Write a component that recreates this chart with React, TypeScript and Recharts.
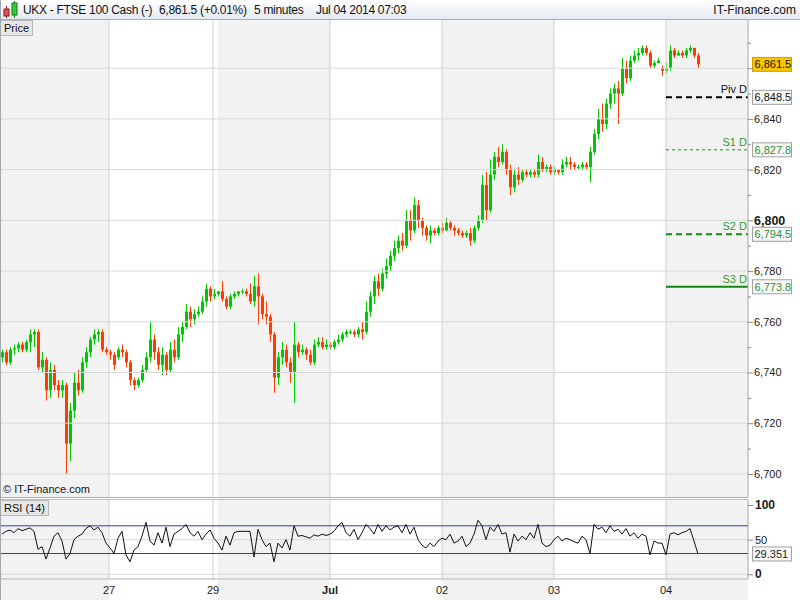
import React from "react";
import { ComposedChart, Bar, Line, XAxis, YAxis, ReferenceLine, ReferenceArea, ReferenceDot } from "recharts";

// 5-minute candles, Jun 26 -> Jul 04 2014 (one entry ~ every 4px of the original)
const opens = [
  6746, 6748, 6744, 6749, 6749.5, 6751, 6749, 6752, 6755, 6756, 6742, 6745, 6733, 6741, 6735, 6733, 6735, 6712, 6725, 6736, 6733, 6744, 6748, 6753, 6755, 6756, 6749,
  6748, 6747, 6746, 6749, 6748, 6744, 6737, 6735, 6737, 6741, 6746, 6753, 6748, 6743, 6747, 6741, 6749, 6746, 6755, 6758, 6764, 6761, 6763, 6764, 6768, 6773, 6770,
  6771, 6772, 6769, 6766, 6770, 6771, 6772, 6772, 6771, 6768, 6774, 6770, 6763, 6762, 6755, 6738, 6746, 6749, 6744, 6740, 6751, 6748, 6749, 6747, 6744, 6751, 6752, 6750,
  6751, 6750, 6752, 6753, 6755, 6756, 6756, 6755, 6757, 6756, 6764, 6770, 6776, 6773, 6779, 6782, 6786, 6789, 6792, 6790, 6800, 6796, 6806, 6800, 6797, 6794, 6796, 6795,
  6797, 6796, 6799, 6797, 6796, 6795, 6794, 6795, 6792, 6797, 6800, 6814, 6804, 6818, 6825, 6823, 6827, 6820, 6813, 6818, 6816, 6819, 6818, 6819, 6818, 6823, 6820, 6821,
  6819, 6820, 6819, 6822, 6823, 6822, 6821, 6821, 6822, 6821, 6827, 6834, 6840, 6838, 6846, 6850, 6852, 6850, 6860, 6856, 6863, 6865, 6866, 6868, 6866, 6861, 6862, 6860,
  6859, 6860, 6867, 6865, 6866, 6865, 6867, 6868, 6865,
];
const highs = [
  6749, 6749, 6750, 6751, 6752, 6752, 6753, 6757, 6757, 6757, 6748, 6746, 6744, 6743, 6737, 6737, 6736, 6728, 6740, 6741, 6746, 6750, 6754, 6757, 6757, 6757, 6750,
  6749, 6748, 6750, 6751, 6749, 6745, 6738, 6738, 6743, 6748, 6760, 6755, 6750, 6750, 6748, 6752, 6753, 6758, 6760, 6767, 6766, 6765, 6766, 6770, 6775, 6774, 6773,
  6772, 6776, 6770, 6771, 6772, 6772, 6773, 6773, 6775, 6778, 6779, 6771, 6768, 6763, 6756, 6748, 6752, 6751, 6746, 6760, 6752, 6751, 6750, 6749, 6753, 6754, 6754, 6753,
  6752, 6753, 6755, 6756, 6757, 6757, 6757, 6758, 6760, 6768, 6772, 6778, 6779, 6781, 6785, 6788, 6792, 6794, 6795, 6804, 6804, 6809, 6808, 6801, 6798, 6798, 6797, 6798,
  6799, 6801, 6800, 6798, 6797, 6796, 6796, 6797, 6798, 6802, 6818, 6819, 6824, 6827, 6829, 6830, 6828, 6822, 6820, 6821, 6820, 6820, 6820, 6820, 6826, 6825, 6822, 6822,
  6821, 6820, 6824, 6825, 6825, 6823, 6822, 6823, 6823, 6829, 6836, 6844, 6846, 6848, 6852, 6854, 6855, 6864, 6863, 6865, 6867, 6868, 6869, 6869, 6867, 6863, 6864, 6861,
  6862, 6869, 6868, 6867, 6867, 6868, 6869, 6868, 6866,
];
const lows = [
  6744, 6743, 6743, 6747, 6748, 6748, 6748, 6748, 6750, 6741, 6740, 6729, 6730, 6733, 6730, 6730, 6700, 6705, 6722, 6731, 6732, 6742, 6746, 6751, 6752, 6748, 6747,
  6745, 6741, 6745, 6746, 6742, 6735, 6733, 6734, 6736, 6740, 6744, 6745, 6741, 6739, 6739, 6740, 6744, 6745, 6752, 6757, 6758, 6759, 6762, 6763, 6766, 6768, 6769,
  6770, 6768, 6765, 6765, 6769, 6770, 6771, 6770, 6767, 6766, 6759, 6761, 6759, 6752, 6732, 6735, 6743, 6742, 6736, 6728, 6746, 6747, 6745, 6743, 6743, 6750, 6749, 6749,
  6749, 6749, 6751, 6752, 6754, 6755, 6754, 6754, 6753, 6755, 6762, 6767, 6770, 6772, 6777, 6780, 6784, 6787, 6788, 6789, 6792, 6795, 6797, 6794, 6792, 6791, 6794, 6794,
  6795, 6796, 6796, 6794, 6794, 6793, 6793, 6790, 6791, 6796, 6799, 6800, 6803, 6816, 6821, 6822, 6818, 6810, 6811, 6814, 6815, 6817, 6817, 6817, 6817, 6819, 6819, 6818,
  6818, 6818, 6818, 6821, 6820, 6820, 6820, 6820, 6820, 6815, 6826, 6832, 6835, 6836, 6844, 6846, 6838, 6849, 6854, 6855, 6862, 6863, 6865, 6865, 6860, 6860, 6862, 6857,
  6858, 6859, 6864, 6865, 6864, 6864, 6866, 6864, 6860,
];
const closes = [
  6748, 6744, 6749, 6749.5, 6751, 6749, 6752, 6755, 6756, 6742, 6745, 6733, 6741, 6735, 6733, 6735, 6712, 6725, 6736, 6733, 6744, 6748, 6753, 6755, 6756, 6749, 6748,
  6747, 6743, 6749, 6748, 6744, 6737, 6735, 6737, 6741, 6746, 6753, 6748, 6743, 6747, 6741, 6749, 6746, 6755, 6758, 6764, 6761, 6763, 6764, 6768, 6773, 6770, 6771,
  6772, 6769, 6766, 6770, 6771, 6772, 6772, 6771, 6768, 6774, 6770, 6763, 6762, 6755, 6738, 6746, 6749, 6744, 6740, 6751, 6748, 6749, 6747, 6744, 6751, 6752, 6750, 6751,
  6750, 6752, 6753, 6755, 6756, 6756, 6755, 6757, 6756, 6764, 6770, 6776, 6773, 6779, 6782, 6786, 6789, 6792, 6790, 6800, 6796, 6806, 6800, 6797, 6794, 6796, 6795, 6797,
  6796, 6799, 6797, 6796, 6795, 6794, 6795, 6792, 6797, 6800, 6814, 6804, 6818, 6825, 6823, 6827, 6820, 6813, 6818, 6816, 6819, 6818, 6819, 6818, 6823, 6820, 6821, 6819,
  6820, 6819, 6822, 6823, 6822, 6821, 6821, 6822, 6821, 6827, 6834, 6840, 6838, 6846, 6850, 6852, 6850, 6860, 6856, 6863, 6865, 6866, 6868, 6866, 6861, 6862, 6863, 6859,
  6860, 6867, 6865, 6866, 6865, 6867, 6868, 6865, 6861.5,
];
const rsiValues = [
  58, 62, 64, 60, 66, 63, 65, 67, 62, 36, 40, 22, 38, 55, 60, 48, 22, 30, 50, 55, 58, 66, 70, 64, 68, 60, 45,
  38, 30, 52, 62, 28, 18, 35, 40, 55, 75, 48, 42, 60, 45, 68, 40, 58, 62, 66, 72, 60, 55, 62, 50, 58, 64, 52,
  45, 35, 55, 42, 60, 62, 62, 62, 62, 25, 65, 50, 40, 45, 18, 45, 38, 50, 35, 70, 55, 56, 54, 52, 57, 55, 58, 56,
  58, 62, 70, 75, 60, 55, 65, 50, 60, 72, 66, 58, 72, 62, 70, 64, 68, 70, 60, 72, 58, 68, 50, 42, 38, 45, 40, 48,
  52, 50, 58, 45, 48, 55, 40, 45, 58, 78, 70, 50, 68, 62, 72, 58, 60, 32, 58, 48, 55, 50, 60, 52, 72, 45, 40, 42,
  50, 55, 48, 52, 50, 47, 45, 55, 50, 30, 72, 65, 68, 60, 70, 62, 65, 58, 66, 55, 60, 52, 58, 55, 28, 48, 45, 45,
  28, 58, 60, 57, 60, 62, 66, 48, 29.351,
];

const dayLabels = ["27", "29", "Jul", "02", "03", "04"];
const dayTicks = [26.75, 52.75, 82, 110, 138, 166];
const dayBands: [number, number][] = [[-0.5, 26.75], [54, 82], [110, 138], [166, 186.5]];
const priceTicks = [6700, 6710, 6720, 6730, 6740, 6750, 6760, 6770, 6780, 6790, 6800, 6810, 6820, 6830, 6840, 6850, 6860, 6870];
const rsiTicks = [0, 50, 100];
const rsiBands = [30, 70];
const pivotNames = ["Piv D", "S1 D", "S2 D", "S3 D"];
const pivotValues = [6848.5, 6827.8, 6794.5, 6773.8];
const pivotStart = 166;
const lastPrice = 6861.5;

const FONT = '"Liberation Sans", Arial, sans-serif';
const BAND = "#f2f2f2";
const GRID = "#d9d9d9";
const UP = "#00c800";
const DOWN = "#ff3c00";
const X_DOMAIN: [number, number] = [-0.5, 186.5];
const PRICE_DOMAIN: [number, number] = [6690.9, 6879.0];
const RSI_DOMAIN: [number, number] = [-6.8, 108.7];
const PLOT_W = 748;

const pivotStyle: Record<string, { color: string; width: number; dash?: string }> = {
  "Piv D": { color: "#000000", width: 2, dash: "6 4" },
  "S1 D": { color: "#119911", width: 1, dash: "3 3" },
  "S2 D": { color: "#118811", width: 2, dash: "6 4" },
  "S3 D": { color: "#118811", width: 2 },
};

const candles = opens.map((o, i) => ({
  i,
  open: o,
  high: highs[i],
  low: lows[i],
  close: closes[i],
  range: [lows[i], highs[i]],
  rsi: rsiValues[i],
}));

const fmt = (v: number, d = 0) =>
  v.toLocaleString("en-US", { minimumFractionDigits: d, maximumFractionDigits: d });

const idxToPx = (v: number) => ((v - X_DOMAIN[0]) * PLOT_W) / (X_DOMAIN[1] - X_DOMAIN[0]);

function Candle(props: any) {
  const { x, y, width, height, payload } = props;
  if (x == null || y == null) return null;
  const top = Math.min(y, y + height);
  const bottom = Math.max(y, y + height);
  const k = (bottom - top) / (payload.high - payload.low || 1);
  const oy = top + (payload.high - payload.open) * k;
  const cy = top + (payload.high - payload.close) * k;
  const color = payload.close >= payload.open ? UP : DOWN;
  const cx = Math.round(x + width / 2);
  return (
    <g>
      <line x1={cx + 0.5} x2={cx + 0.5} y1={top} y2={bottom} stroke={color} strokeWidth={1} />
      <rect x={cx - 1} y={Math.min(oy, cy)} width={3} height={Math.max(1, Math.abs(cy - oy))} fill={color} />
    </g>
  );
}

function PriceTick(props: any) {
  const { x, y, payload } = props;
  const v = payload.value;
  const major = v % 20 === 0;
  const big = v === 6800;
  // the last-price box sits over this label in the original
  const hidden = Math.abs(v - lastPrice) < 5;
  return (
    <g>
      <line x1={x} x2={x + (major ? 5 : 3)} y1={y + 0.5} y2={y + 0.5} stroke="#8a8a8a" />
      {major && !hidden && (
        <text x={x + 6} y={y} dy={big ? 4.5 : 4} fontSize={big ? 12.5 : 11} fontWeight={big ? "bold" : "normal"} fill="#1a1a1a" fontFamily={FONT}>
          {fmt(v)}
        </text>
      )}
    </g>
  );
}

function RsiTick(props: any) {
  const { x, y, payload } = props;
  const v = payload.value;
  const bold = v !== 50;
  return (
    <g>
      <line x1={x} x2={x + 5} y1={y + 0.5} y2={y + 0.5} stroke="#8a8a8a" />
      <text x={x + 7} y={y} dy={4} fontSize={bold ? 12 : 11} fontWeight={bold ? "bold" : "normal"} fill="#1a1a1a" fontFamily={FONT}>
        {v}
      </text>
    </g>
  );
}

function DayTick(props: any) {
  const { x, y, payload } = props;
  const label = dayLabels[dayTicks.indexOf(payload.value)];
  return (
    <text x={x} y={y + 15} textAnchor="middle" fontSize={11} fontWeight={label === "Jul" ? "bold" : "normal"} fill="#1a1a1a" fontFamily={FONT}>
      {label}
    </text>
  );
}

function ValueBox({ x, y, text, fill, stroke, color }: any) {
  return (
    <g>
      <rect x={x} y={y - 7} width={39} height={14} fill={fill} stroke={stroke} />
      <text x={x + 2} y={y + 4} fontSize={11} fill={color} fontFamily={FONT}>
        {text}
      </text>
    </g>
  );
}

// box on the value axis, anchored to an invisible dot at the right edge of the plot
function axisBox(value: number, text: string, fill: string, stroke: string, color: string) {
  return (
    <ReferenceDot
      x={X_DOMAIN[1]}
      y={value}
      r={0}
      fill="none"
      stroke="none"
      ifOverflow="visible"
      label={(p: any) => {
        const vb = p.viewBox;
        return <ValueBox x={vb.x + vb.width / 2 + 4.5} y={vb.y + vb.height / 2} text={text} fill={fill} stroke={stroke} color={color} />;
      }}
    />
  );
}

function PriceChart() {
  return (
    <ComposedChart width={800} height={477} data={candles} margin={{ top: 0, right: 0, bottom: 0, left: 0 }}>
      <XAxis dataKey="i" type="number" domain={X_DOMAIN} hide allowDataOverflow />
      <YAxis
        orientation="right"
        width={52}
        type="number"
        domain={PRICE_DOMAIN}
        allowDataOverflow
        ticks={priceTicks}
        interval={0}
        tickLine={false}
        tickSize={0}
        tickMargin={0}
        axisLine={{ stroke: "#a8a8a8" }}
        tick={(p: any) => <PriceTick {...p} />}
      />
      {dayBands.map(([a, b], k) => (
        <ReferenceArea key={`b${k}`} x1={a} x2={b} fill={BAND} fillOpacity={1} stroke="none" />
      ))}
      {priceTicks.filter((v) => v % 20 === 0).map((v) => (
        <ReferenceLine key={`h${v}`} y={v} stroke={GRID} />
      ))}
      {dayTicks.map((v) => (
        <ReferenceLine key={`v${v}`} x={v} stroke="#d0d0d0" />
      ))}
      <Bar dataKey="range" barSize={3} shape={(p: any) => <Candle {...p} />} isAnimationActive={false} />
      {pivotNames.map((name, k) => {
        const s = pivotStyle[name];
        const val = pivotValues[k];
        const textColor = s.color === "#000000" ? "#111" : "#339933";
        return (
          <ReferenceLine
            key={name}
            segment={[{ x: pivotStart, y: val }, { x: X_DOMAIN[1], y: val }]}
            stroke={s.color}
            strokeWidth={s.width}
            strokeDasharray={s.dash}
            label={(p: any) => {
              const vb = p.viewBox;
              const right = vb.x + vb.width;
              return (
                <g>
                  <text x={right - 1} y={vb.y - 4} textAnchor="end" fontSize={11} fill={textColor} fontFamily={FONT}>
                    {name}
                  </text>
                  <ValueBox x={right + 4.5} y={vb.y} text={fmt(val, 1)} fill="#f8f8f8" stroke="#a0a0a0" color={s.color === "#000000" ? "#111" : "#2f8f2f"} />
                </g>
              );
            }}
          />
        );
      })}
      {axisBox(lastPrice, fmt(lastPrice, 1), "#f7c600", "#d89a00", "#111")}
    </ComposedChart>
  );
}

function RsiChart() {
  const last = rsiValues[rsiValues.length - 1];
  return (
    <ComposedChart width={800} height={101} data={candles} margin={{ top: 0, right: 0, bottom: 0, left: 0 }}>
      <XAxis
        dataKey="i"
        type="number"
        domain={X_DOMAIN}
        allowDataOverflow
        ticks={dayTicks}
        interval={0}
        height={21}
        tickLine={false}
        tickSize={0}
        tickMargin={0}
        axisLine={{ stroke: "#b0b0b0" }}
        tick={(p: any) => <DayTick {...p} />}
      />
      <YAxis
        orientation="right"
        width={52}
        type="number"
        domain={RSI_DOMAIN}
        allowDataOverflow
        ticks={rsiTicks}
        interval={0}
        tickLine={false}
        tickSize={0}
        tickMargin={0}
        axisLine={{ stroke: "#a8a8a8" }}
        tick={(p: any) => <RsiTick {...p} />}
      />
      {dayBands.map(([a, b], k) => (
        <ReferenceArea key={`b${k}`} x1={a} x2={b} fill={BAND} fillOpacity={1} stroke="none" />
      ))}
      {[0, 50].map((v) => (
        <ReferenceLine key={`g${v}`} y={v} stroke={GRID} />
      ))}
      {dayTicks.map((v) => (
        <ReferenceLine key={`v${v}`} x={v} stroke="#d0d0d0" />
      ))}
      {rsiBands.map((v) => (
        <ReferenceLine key={`r${v}`} y={v} stroke="#3535c4" />
      ))}
      <Line dataKey="rsi" type="linear" stroke="#111" strokeWidth={1} dot={false} isAnimationActive={false} />
      {axisBox(last, String(last), "#f8f8f8", "#a0a0a0", "#222")}
    </ComposedChart>
  );
}

function Header() {
  const span = (left: number, text: string) => (
    <span style={{ position: "absolute", left, top: 3, letterSpacing: -0.3 }}>{text}</span>
  );
  return (
    <div
      style={{
        position: "absolute",
        left: 0,
        top: 0,
        width: 800,
        height: 19,
        borderBottom: "1px solid #a9b0b8",
        background: "linear-gradient(#ffffff, #e4eaf0)",
        fontSize: 12,
        color: "#111",
      }}
    >
      <svg width={20} height={20} style={{ position: "absolute", left: 1, top: 0 }}>
        <line x1={5.5} x2={5.5} y1={6} y2={18} stroke="#8a2020" />
        <rect x={3} y={9} width={5} height={7} fill="#e05050" stroke="#8a2020" />
        <line x1={13.5} x2={13.5} y1={1} y2={18} stroke="#207020" />
        <rect x={11} y={3} width={5} height={12} fill="#30d030" stroke="#207020" />
      </svg>
      {span(23, "UKX - FTSE 100 Cash (-)")}
      {span(159, "6,861.5 (+0.01%)")}
      {span(254, "5 minutes")}
      {span(316, "Jul 04 2014 07:03")}
      <span style={{ position: "absolute", right: 4, top: 3 }}>IT-Finance.com</span>
    </div>
  );
}

export default function App() {
  const tag = (left: number, top: number, text: string) => (
    <div
      style={{
        position: "absolute",
        left,
        top,
        padding: "0 3px",
        height: 14,
        lineHeight: "14px",
        fontSize: 11,
        background: "#e6e6e6",
        border: "1px solid #b8b8b8",
        color: "#111",
      }}
    >
      {text}
    </div>
  );
  return (
    <div style={{ position: "absolute", left: 0, top: 0, width: 800, height: 600, background: "#fff", overflow: "hidden", fontFamily: FONT }}>
      {dayBands.map(([a, b], k) => (
        <div key={k} style={{ position: "absolute", left: idxToPx(a), width: idxToPx(b) - idxToPx(a), top: 580, height: 20, background: BAND }} />
      ))}
      <div style={{ position: "absolute", left: 0, top: 20 }}>
        <PriceChart />
      </div>
      <div style={{ position: "absolute", left: 0, top: 497, width: PLOT_W, height: 1, background: "#b0b0b0" }} />
      <div style={{ position: "absolute", left: 0, top: 499 }}>
        <RsiChart />
      </div>
      <div style={{ position: "absolute", left: 0, top: 499, width: PLOT_W, height: 1, background: "#c0c0c0" }} />
      <Header />
      {tag(0, 20, "Price")}
      {tag(0, 500, "RSI (14)")}
      <div style={{ position: "absolute", left: 3, top: 483, fontSize: 11, color: "#111" }}>© IT-Finance.com</div>
      <div style={{ position: "absolute", left: 0, top: 0, width: 1, height: 600, background: "#a0a8b0" }} />
    </div>
  );
}
